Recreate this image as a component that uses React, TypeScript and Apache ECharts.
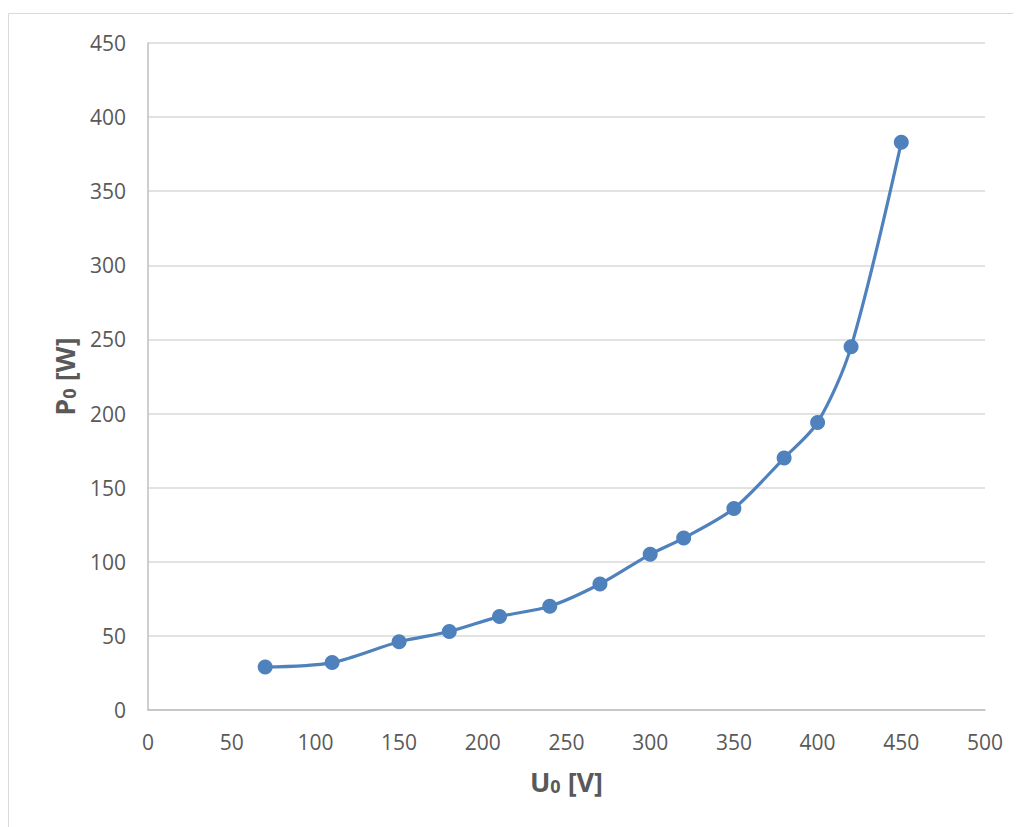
import React, { useEffect, useRef } from "react";
import * as echarts from "echarts";

const voltage = [70, 110, 150, 180, 210, 240, 270, 300, 320, 350, 380, 400, 420, 450];
const power = [29, 32, 46, 53, 63, 70, 85, 105, 116, 136, 170, 194, 245, 383];

const FONT = "'Open Sans', 'Liberation Sans', sans-serif";
const GREY = "#595959";

export default function App() {
  const ref = useRef<HTMLDivElement>(null);
  useEffect(() => {
    if (!ref.current) return;
    const chart = echarts.init(ref.current, undefined, { renderer: "svg" });
    const rich = {
      b: { fontFamily: FONT, fontSize: 27, fontWeight: "bold", color: GREY },
      s: { fontFamily: FONT, fontSize: 18, fontWeight: "bold", color: GREY, verticalAlign: "bottom", padding: [10, 0, 0, 0] },
    };
    chart.setOption({
      animation: false,
      backgroundColor: "#ffffff",
      graphic: [
        { type: "line", shape: { x1: 0.5, y1: 5.5, x2: 1013, y2: 5.5 }, style: { stroke: "#d9d9d9", lineWidth: 1 } },
        { type: "line", shape: { x1: 0.5, y1: 5.5, x2: 0.5, y2: 819 }, style: { stroke: "#d9d9d9", lineWidth: 1 } },
      ],
      grid: { left: 140, right: 36, top: 35, bottom: 117, containLabel: false },
      xAxis: {
        type: "value",
        min: 0,
        max: 500,
        interval: 50,
        name: "{b|U}{s|0}{b| [V]}",
        nameLocation: "middle",
        nameGap: 57,
        nameTextStyle: { rich },
        axisLine: { show: true, lineStyle: { color: "#bfbfbf", width: 1.5 } },
        axisTick: { show: false },
        axisLabel: { fontFamily: FONT, fontSize: 21, color: GREY, margin: 21 },
        splitLine: { show: false },
      },
      yAxis: {
        type: "value",
        min: 0,
        max: 450,
        interval: 50,
        name: "{b|P}{s|0}{b| [W]}",
        nameLocation: "middle",
        nameGap: 70,
        nameRotate: 90,
        nameTextStyle: { rich },
        axisLine: { show: true, lineStyle: { color: "#bfbfbf", width: 1.5 } },
        axisTick: { show: false },
        axisLabel: { fontFamily: FONT, fontSize: 21, color: GREY, margin: 22 },
        splitLine: { show: true, lineStyle: { color: "#d9d9d9", width: 1.5 } },
      },
      series: [
        {
          type: "line",
          data: voltage.map((v, i) => [v, power[i]]),
          smooth: 0.3,
          symbol: "circle",
          symbolSize: 15,
          itemStyle: { color: "#4f81bd" },
          lineStyle: { color: "#4f81bd", width: 3.2 },
        },
      ],
    });
    return () => chart.dispose();
  }, []);
  return <div ref={ref} style={{ width: 1013, height: 819 }} />;
}
